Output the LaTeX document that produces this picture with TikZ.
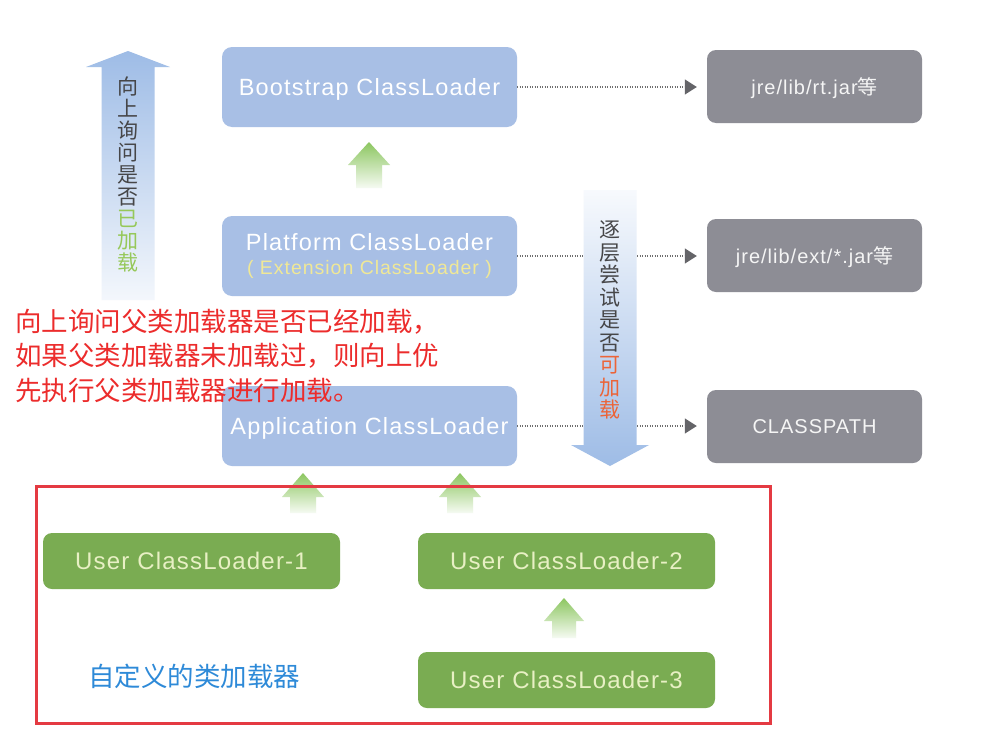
\documentclass[tikz,border=0pt]{standalone}
\usepackage{fontspec}
\usetikzlibrary{arrows.meta}
\newfontfamily\cjk{Noto Sans CJK SC}
\newfontfamily\boxfont{Liberation Sans}[LetterSpace=5]
\definecolor{boxblue}{RGB}{168,191,229}
\definecolor{boxgray}{RGB}{141,141,149}
\definecolor{boxgreen}{RGB}{122,172,82}
\definecolor{greentext}{RGB}{232,240,196}
\definecolor{exttext}{RGB}{240,232,150}
\definecolor{arrowgreen}{RGB}{140,198,96}
\definecolor{arrowblue}{RGB}{158,188,230}
\definecolor{framered}{RGB}{228,58,66}
\definecolor{notered}{RGB}{236,44,44}
\definecolor{noteblue}{RGB}{46,138,216}
\definecolor{vtextgray}{RGB}{70,70,72}
\definecolor{vtextgreen}{RGB}{150,200,90}
\definecolor{vtextorange}{RGB}{236,100,56}
\definecolor{dotgray}{RGB}{110,110,110}
\definecolor{tipgray}{RGB}{100,100,104}
\newcommand\myuparrow[7]{%
 \shade[#7] (#1,#2) -- (#1+#5,#3) -- (#1+#6,#3) -- (#1+#6,#4) -- (#1-#6,#4) -- (#1-#6,#3) -- (#1-#5,#3) -- cycle;}
\begin{document}
\begin{tikzpicture}[x=1pt,y=-1pt,
 loader/.style={rounded corners=10pt, fill=boxblue, minimum width=295pt, minimum height=80pt, text=white, font=\boxfont\fontsize{23.5}{26}\selectfont, align=center, inner sep=0pt},
 oneline/.style={text depth=0pt},
 lib/.style={rounded corners=9pt, fill=boxgray, minimum width=215pt, minimum height=73pt, text=white!92!gray, font=\boxfont\fontsize{20}{22}\selectfont, inner sep=0pt, text depth=0pt},
 user/.style={rounded corners=9pt, fill=boxgreen, minimum width=297pt, minimum height=56pt, text=greentext, font=\boxfont\fontsize{24}{26}\selectfont, inner sep=0pt},
 conn/.style={draw=dotgray, line width=1.1pt, dash pattern=on 1.2pt off 1.3pt, shorten >=10pt, -{Triangle[length=12pt,width=15pt,color=tipgray]}},
 vtext/.style={font=\cjk\fontsize{21}{22}\selectfont, align=center, text=vtextgray, inner sep=0pt},
 note/.style={font=\cjk\fontsize{26.5}{30}\selectfont, text=notered, inner sep=0pt, anchor=west},
 garrow/.style={top color=arrowgreen, bottom color=arrowgreen!8}
]
\useasboundingbox[fill=white] (0,0) rectangle (996,731);
% small green arrows
\myuparrow{369}{142}{165}{188}{21}{13}{garrow}
\myuparrow{303}{473}{497}{513}{21}{13}{garrow}
\myuparrow{460}{473}{497}{513}{21}{13}{garrow}
\myuparrow{564}{598}{621}{638}{20}{12}{garrow}
% loaders
\node[loader, oneline] (boot) at (369.5,87) {Bootstrap ClassLoader};
\node[loader] (plat) at (369.5,256) {Platform ClassLoader\\[-2pt]{\fontsize{19.5}{21}\selectfont\color{exttext}( Extension ClassLoader )}};
\node[loader, oneline] (app) at (369.5,426) {Application ClassLoader};
\node[lib] (rt) at (814.5,86.5) {jre/lib/rt.jar{\cjk 等}};
\node[lib] (ext) at (814.5,255.5) {jre/lib/ext/*.jar{\cjk 等}};
\node[lib] (cp) at (814.5,426.5) {CLASSPATH};
\node[user] (u1) at (191.5,561) {User ClassLoader-1};
\node[user] (u2) at (566.5,561) {User ClassLoader-2};
\node[user] (u3) at (566.5,680) {User ClassLoader-3};
% connectors
\draw[conn] (boot) -- (boot -| rt.west);
\draw[conn] (plat) -- (plat -| ext.west);
\draw[conn] (app) -- (app -| cp.west);
% big arrows
\myuparrow{128}{51}{67}{300}{42}{26.5}{top color=arrowblue, bottom color=arrowblue!12}
\myuparrow{610}{466}{445}{190}{39}{26.5}{top color=arrowblue!8, bottom color=arrowblue}
\node[vtext] (up) at (128,175) {向\\上\\询\\问\\是\\否\\{\color{vtextgreen}已}\\{\color{vtextgreen}加}\\{\color{vtextgreen}载}};
\node[vtext, font=\cjk\fontsize{21}{22.5}\selectfont] (down) at (610,320) {逐\\层\\尝\\试\\是\\否\\{\color{vtextorange}可}\\{\color{vtextorange}加}\\{\color{vtextorange}载}};
% frame
\node[draw=framered, line width=3pt, minimum width=734pt, minimum height=237pt, inner sep=0pt] (frame) at (403,604.5) {};
% notes
\node[note] (n1) at (15,322) {向上询问父类加载器是否已经加载，};
\node[note] (n2) at (15,356) {如果父类加载器未加载过，则向上优};
\node[note] (n3) at (15,390) {先执行父类加载器进行加载。};
\node[note, text=noteblue] (custom) at (88,676) {自定义的类加载器};
\end{tikzpicture}
\end{document}
